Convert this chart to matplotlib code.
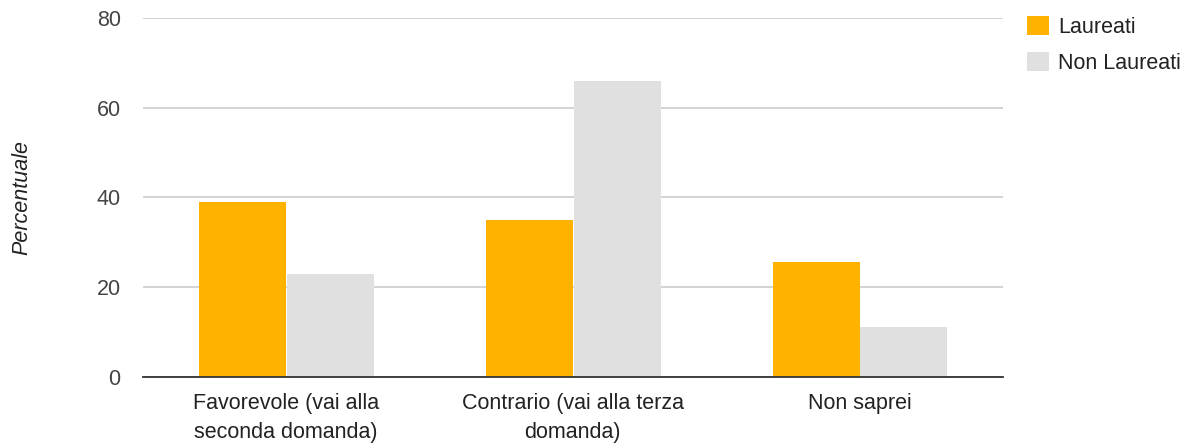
import matplotlib.pyplot as plt
import numpy as np

# data
categories = ['Favorevole (vai alla\nseconda domanda)',
              'Contrario (vai alla terza\ndomanda)',
              'Non saprei']
laureati = [39, 35, 25.5]
non_laureati = [23, 66, 11]
series_names = ['Laureati', 'Non Laureati']

plt.rcParams['font.family'] = ['Liberation Sans', 'DejaVu Sans']

fig = plt.figure(figsize=(11.91, 4.43), dpi=100)
ax = fig.add_axes([0.12, 0.15, 0.722, 0.809])

x = np.arange(len(categories))
w = 0.303
ax.bar(x - w / 2, laureati, width=w, color='#ffb300', label=series_names[0], zorder=3)
ax.bar(x + w / 2 + 0.003, non_laureati, width=w, color='#e0e0e0', label=series_names[1], zorder=3)

ax.set_xlim(-0.5, 2.5)
ax.set_ylim(0, 80)
ax.set_yticks([0, 20, 40, 60, 80])
ax.set_xticks(x)
ax.set_xticklabels(categories, fontsize=15.5, color='#222222', linespacing=1.5)
ax.tick_params(axis='x', length=0, pad=12)
ax.tick_params(axis='y', length=0, pad=16, labelsize=15.5, labelcolor='#444444')

ax.grid(axis='y', color='#cccccc', linewidth=1.2, zorder=0)
for s in ['top', 'right', 'left']:
    ax.spines[s].set_visible(False)
ax.spines['bottom'].set_color('#333333')
ax.spines['bottom'].set_linewidth(1.3)
ax.spines['bottom'].set_zorder(4)

ax.set_ylabel('Percentuale', fontsize=15.5, style='italic', color='#222222', labelpad=46)

leg = ax.legend(loc='upper left', bbox_to_anchor=(1027 / 1191, 1 - 16 / 443),
                bbox_transform=fig.transFigure, frameon=False, fontsize=15.5,
                handlelength=1.0, handleheight=1.0, handletextpad=0.45,
                labelspacing=0.65, borderaxespad=0, borderpad=0)
for t in leg.get_texts():
    t.set_color('#222222')

plt.savefig('out.png', dpi=100)
